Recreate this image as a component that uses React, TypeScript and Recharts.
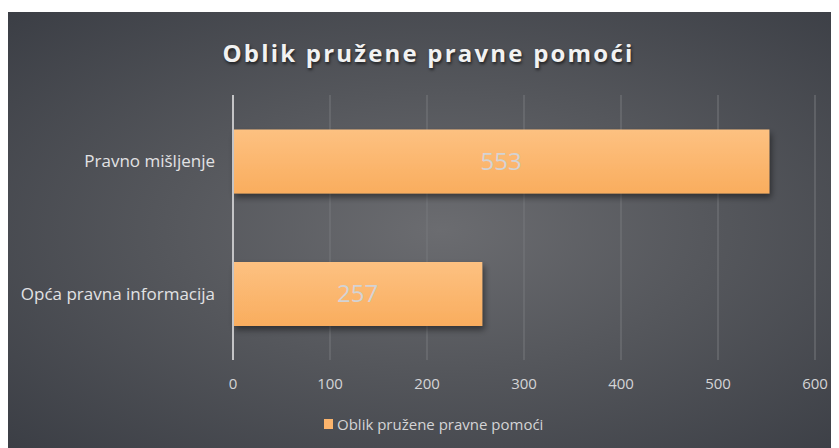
import { BarChart, Bar, XAxis, YAxis, CartesianGrid, Legend, LabelList } from 'recharts';

// categories, top to bottom
const categories = ['Pravno mišljenje', 'Opća pravna informacija'];
const counts = [553, 257];
const xTicks = [0, 100, 200, 300, 400, 500, 600];
const seriesName = 'Oblik pružene pravne pomoći';
const title = 'Oblik pružene pravne pomoći';

const chartData = categories.map((name, i) => ({ name, value: counts[i] }));

const FONT = '"Open Sans", "Noto Sans", sans-serif';

// legend: small orange square + series name
const renderLegend = () => (
  <div style={{ display: 'flex', alignItems: 'center', height: 20, fontFamily: FONT, fontSize: 15, color: '#d4d4d6' }}>
    <span style={{ width: 9, height: 10, background: '#fbb46c', marginRight: 4, display: 'inline-block' }} />
    {seriesName}
  </div>
);

export default function App() {
  return (
    <div
      style={{
        position: 'relative',
        width: 831,
        height: 436,
        marginTop: 4,
        background: 'radial-gradient(ellipse at 52% 50%, #6b6c70 0%, #55575c 45%, #3b3e45 100%)',
        overflow: 'hidden',
      }}
    >
      <div
        style={{
          position: 'absolute',
          top: 24,
          left: 0,
          width: 831,
          textAlign: 'center',
          fontFamily: FONT,
          fontWeight: 700,
          fontSize: 24,
          letterSpacing: 2.2,
          color: '#f2f2f2',
          textShadow: '1px 2px 3px rgba(0,0,0,0.6)',
          paddingLeft: 10,
          boxSizing: 'border-box',
        }}
      >
        {title}
      </div>
      <BarChart
        width={831}
        height={436}
        data={chartData}
        layout="vertical"
        margin={{ top: 83, right: 24, bottom: 38, left: 0 }}
        barCategoryGap="26%"
      >
        <defs>
          <linearGradient id="barFill" x1="0" y1="0" x2="0" y2="1">
            <stop offset="0%" stopColor="#fdc181" />
            <stop offset="100%" stopColor="#f9ad5e" />
          </linearGradient>
          <filter id="barShadow" x="-5%" y="-20%" width="115%" height="160%">
            <feDropShadow dx="2" dy="4" stdDeviation="3" floodColor="#000" floodOpacity="0.45" />
          </filter>
        </defs>
        <CartesianGrid horizontal={false} stroke="#77787c" strokeWidth={1} />
        <XAxis
          type="number"
          domain={[0, 600]}
          ticks={xTicks}
          axisLine={false}
          tickLine={false}
          tickSize={0}
          tickMargin={18}
          tick={{ fill: '#d4d4d6', fontSize: 15, fontFamily: FONT }}
        />
        <YAxis
          type="category"
          dataKey="name"
          width={225}
          axisLine={{ stroke: '#c4c4c6', strokeWidth: 2 }}
          tickLine={false}
          tickSize={0}
          tickMargin={18}
          tick={{ fill: '#e2e2e4', fontSize: 17, fontFamily: FONT }}
        />
        <Legend
          verticalAlign="bottom"
          height={20}
          content={renderLegend}
          wrapperStyle={{ left: 316, bottom: 14, width: 'auto' }}
        />
        <Bar
          dataKey="value"
          name={seriesName}
          fill="url(#barFill)"
          filter="url(#barShadow)"
          isAnimationActive={false}
        >
          <LabelList
            dataKey="value"
            position="center"
            fill="#d3d3d5"
            style={{ fontSize: 24, fontFamily: FONT }}
          />
        </Bar>
      </BarChart>
    </div>
  );
}
